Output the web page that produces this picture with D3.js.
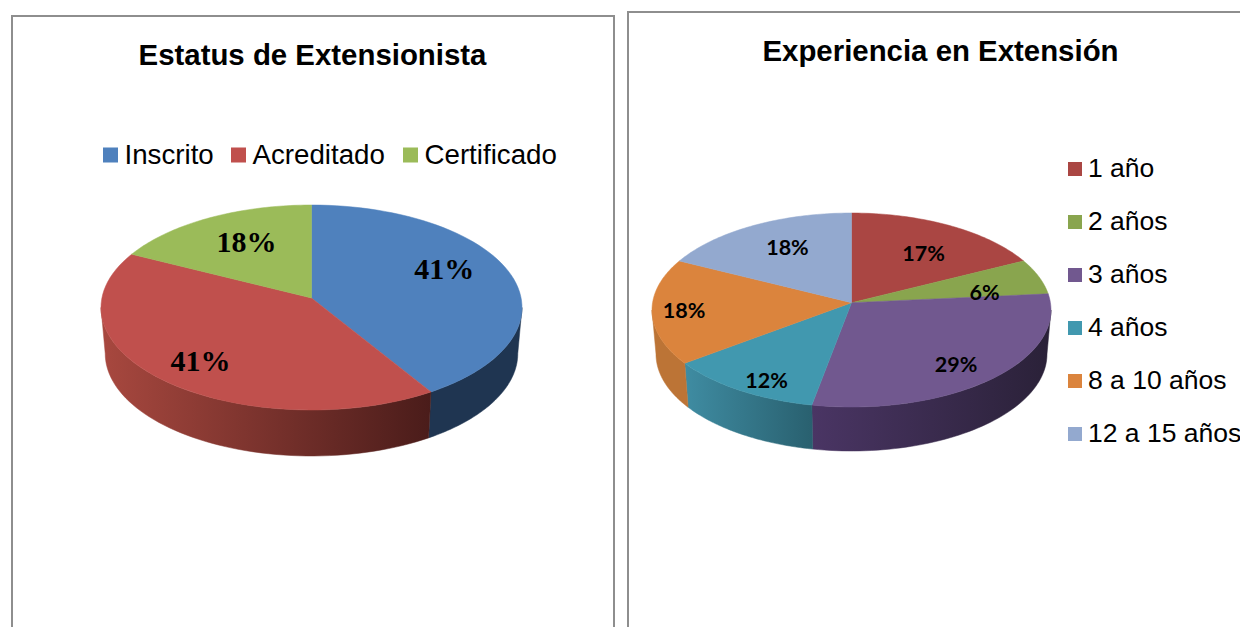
<!DOCTYPE html>
<html><head><meta charset="utf-8">
<script src="https://cdn.jsdelivr.net/npm/d3@7"></script>
<style>html,body{margin:0;padding:0;background:#fff}svg{display:block}</style>
</head><body><svg id="c" width="1240" height="627"></svg>
<script>
// Data
const statusCategories = ["Inscrito", "Acreditado", "Certificado"];
const statusValues = [41.2, 41.2, 17.6];
const statusLabels = ["41%", "41%", "18%"];
const statusColors = ["#4F81BD", "#C0504D", "#9BBB59"];
const statusWall = [["#1F3551", "#1F3551"], ["#A8483F", "#4A1C1A"], ["#7A9440", "#7A9440"]];
const statusNudge = [[-6, -10], [-7, 7], [8, 1]];

const expCategories = ["1 año", "2 años", "3 años", "4 años", "8 a 10 años", "12 a 15 años"];
const expValues = [17.6, 5.9, 29.4, 11.8, 17.6, 17.6];
const expLabels = ["17%", "6%", "29%", "12%", "18%", "18%"];
const expColors = ["#AA4643", "#89A54E", "#71588F", "#4198AF", "#DB843D", "#93A9CF"];
const expWall = [["#7A3230", "#7A3230"], ["#62763A", "#62763A"], ["#4A3564", "#2A2138"], ["#3F8CA2", "#29606F"], ["#BC7436", "#BC7436"], ["#6E83A6", "#6E83A6"]];
const expNudge = [[2, 5.5], [1, 7.5], [7, 9], [-8, 17.5], [-28, 1.5], [6, -0.5]];

const svg = d3.select("#c");
const defs = svg.append("defs");
const BORDER = "#8E8E8E";

function drawPie(o) {
  const g = svg.append("g");
  const up = o.cy - o.top, down = o.bottom - o.cy;
  const k = (down - up) / (down + up);
  const a = up * (1 + k);
  const Rx = o.rx * Math.sqrt(1 - k * k);
  const px = (t, r) => {
    const X = r * Math.sin(t), Y = r * Math.cos(t), w = 1 + k * Y;
    return [o.cx + Rx * X / w, o.cy - a * Y / w];
  };
  const lower = ([x, y]) => [o.cx + (x - o.cx) * o.shrink, y + o.depth];
  const arcs = d3.pie().sort(null).value(d => d)(o.values);
  const line = d3.line();
  const sample = (t0, t1) => d3.range(0, 61).map(i => t0 + (t1 - t0) * i / 60);
  const tr = Math.acos(-k), tl = 2 * Math.PI - tr;

  // side walls
  arcs.forEach((d, i) => {
    const t0 = Math.max(d.startAngle, tr), t1 = Math.min(d.endAngle, tl);
    if (t1 <= t0) return;
    const top = sample(t0, t1).map(t => px(t, 1));
    const bot = top.map(lower).reverse();
    const pts = top.concat(bot);
    const ex = d3.extent(pts, p => p[0]);
    const id = o.id + "w" + i;
    const gr = defs.append("linearGradient").attr("id", id)
      .attr("gradientUnits", "userSpaceOnUse")
      .attr("x1", ex[0]).attr("x2", ex[1]).attr("y1", 0).attr("y2", 0);
    gr.append("stop").attr("offset", 0).attr("stop-color", o.wall[i][0]);
    gr.append("stop").attr("offset", 1).attr("stop-color", o.wall[i][1]);
    g.append("path").attr("d", line(pts) + "Z").attr("fill", `url(#${id})`)
      .attr("stroke", `url(#${id})`).attr("stroke-width", 0.5);
  });
  // top faces
  arcs.forEach((d, i) => {
    const pts = [px(0, 0)].concat(sample(d.startAngle, d.endAngle).map(t => px(t, 1)));
    g.append("path").attr("d", line(pts) + "Z").attr("fill", o.colors[i])
      .attr("stroke", o.colors[i]).attr("stroke-width", 0.5);
  });
  // labels
  arcs.forEach((d, i) => {
    const p = px((d.startAngle + d.endAngle) / 2, 0.7);
    g.append("text").attr("x", p[0] + o.nudge[i][0]).attr("y", p[1] + o.nudge[i][1])
      .attr("text-anchor", "middle").attr("dominant-baseline", "central")
      .attr("font-family", o.labelFont).attr("font-weight", "bold")
      .attr("font-size", o.labelSize).attr("fill", "#000").text(o.labels[i]);
  });
}

function frame(x0, y0, x1, y1, right) {
  const p = right
    ? `M${x0},${y1}L${x0},${y0}L${x1},${y0}L${x1},${y1}`
    : `M${x0},${y1}L${x0},${y0}L${x1},${y0}`;
  svg.append("path").attr("d", p).attr("fill", "none").attr("stroke", BORDER).attr("stroke-width", 2);
}
frame(12, 16, 614, 630, true);
frame(628, 12, 1245, 630, false);

const sans = "'Liberation Sans', Arial, sans-serif";
function title(t, x, y) {
  svg.append("text").attr("x", x).attr("y", y).attr("text-anchor", "middle")
    .attr("font-family", sans).attr("font-weight", "bold").attr("font-size", 29.4).attr("fill", "#000").text(t);
}
title("Estatus de Extensionista", 312.5, 64.5);
title("Experiencia en Extensión", 940.5, 60.5);

function legendItem(t, color, x, y, box, gap, size, base) {
  svg.append("rect").attr("x", x).attr("y", y - box / 2).attr("width", box).attr("height", box).attr("fill", color);
  svg.append("text").attr("x", x + gap).attr("y", y + base)
    .attr("font-family", sans).attr("font-size", size).attr("fill", "#000").text(t);
}
const leftLegendX = [103, 231, 403];
statusCategories.forEach((c, i) => legendItem(c, statusColors[i], leftLegendX[i], 155, 15, 21.5, 27.7, 9));
expCategories.forEach((c, i) => legendItem(c, expColors[i], 1068, 169 + i * 53, 14, 20, 26.5, 8));

drawPie({id: "a", cx: 311.5, cy: 298, top: 205, bottom: 410, rx: 210.5, depth: 46, shrink: 0.98,
  values: statusValues, labels: statusLabels, colors: statusColors, wall: statusWall, nudge: statusNudge,
  labelFont: "'Liberation Serif', 'Times New Roman', serif", labelSize: 30});
drawPie({id: "b", cx: 851.5, cy: 302.7, top: 213, bottom: 407, rx: 199.5, depth: 44, shrink: 0.98,
  values: expValues, labels: expLabels, colors: expColors, wall: expWall, nudge: expNudge,
  labelFont: "Lato, 'Open Sans', sans-serif", labelSize: 21.5});
</script></body></html>
